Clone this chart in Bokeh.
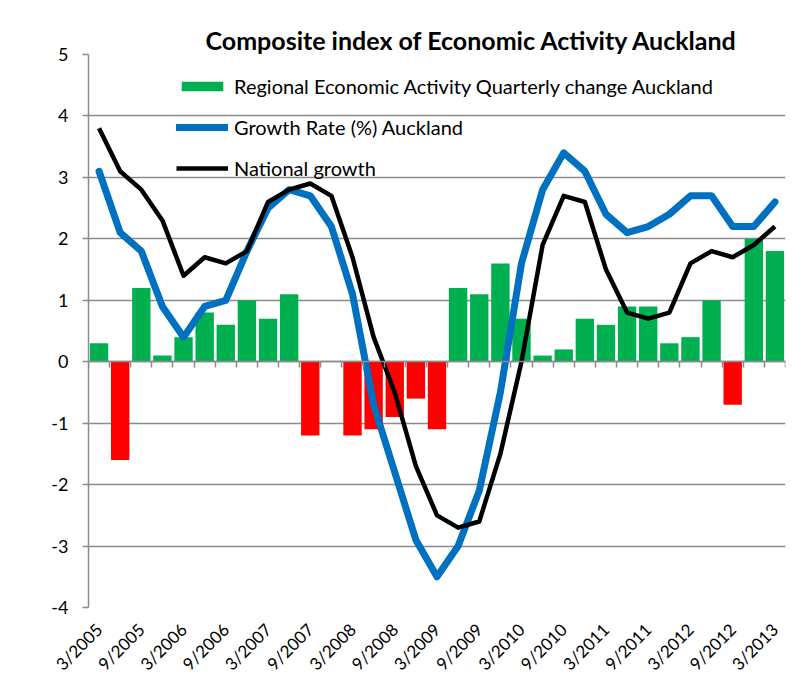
import math
from bokeh.plotting import figure
from bokeh.models import (Range1d, FixedTicker, LinearAxis, Legend, LegendItem,
                          Label, ColumnDataSource)
from bokeh.embed import file_html
from bokeh.resources import INLINE

# ---- data ----
quarters = [f"{m}/{y}" for y in range(2005, 2014) for m in (3, 6, 9, 12)][:33]
regional_change = [0.3, -1.6, 1.2, 0.1, 0.4, 0.8, 0.6, 1.0, 0.7, 1.1, -1.2, 0.0,
                   -1.2, -1.1, -0.9, -0.6, -1.1, 1.2, 1.1, 1.6, 0.7, 0.1, 0.2,
                   0.7, 0.6, 0.9, 0.9, 0.3, 0.4, 1.0, -0.7, 2.0, 1.8]
growth_auckland = [3.1, 2.1, 1.8, 0.9, 0.4, 0.9, 1.0, 1.8, 2.5, 2.8, 2.7, 2.2,
                   1.1, -0.7, -1.8, -2.9, -3.5, -3.0, -2.1, -0.5, 1.6, 2.8, 3.4,
                   3.1, 2.4, 2.1, 2.2, 2.4, 2.7, 2.7, 2.2, 2.2, 2.6]
national_growth = [3.8, 3.1, 2.8, 2.3, 1.4, 1.7, 1.6, 1.8, 2.6, 2.8, 2.9, 2.7,
                   1.7, 0.4, -0.5, -1.7, -2.5, -2.7, -2.6, -1.5, 0.0, 1.9, 2.7,
                   2.6, 1.5, 0.8, 0.7, 0.8, 1.6, 1.8, 1.7, 1.9, 2.2]
y_ticks = [-4, -3, -2, -1, 0, 1, 2, 3, 4, 5]

title_text = "Composite index of Economic Activity Auckland"
label_bars = "Regional Economic Activity Quarterly change Auckland"
label_blue = "Growth Rate (%) Auckland"
label_black = "National growth"

FONT = "Lato"
GREEN = "#00B050"
RED = "#FF0000"
BLUE = "#0070C0"
GRID = "#8C8C8C"

idx = list(range(len(quarters)))
colors = [GREEN if v >= 0 else RED for v in regional_change]
src = ColumnDataSource(dict(x=idx, bars=regional_change, color=colors,
                            blue=growth_auckland, black=national_growth))

p = figure(width=794, height=684, output_backend="svg", toolbar_location=None,
           x_range=Range1d(-0.5, len(quarters) - 0.5), y_range=Range1d(min(y_ticks), max(y_ticks)),
           min_border_left=88, min_border_right=9, min_border_top=54, min_border_bottom=77,
           title=title_text)
p.outline_line_color = None
p.background_fill_color = "white"
p.border_fill_color = "white"

p.title.text_font = FONT
p.title.text_font_size = "25px"
p.title.text_font_style = "bold"
p.title.text_color = "black"
p.title.align = "left"
p.title.offset = 117
p.title.standoff = 0

# grid
p.xgrid.visible = False
p.ygrid.ticker = FixedTicker(ticks=y_ticks)
p.ygrid.grid_line_color = GRID
p.ygrid.grid_line_width = 1.5

# y axis
p.yaxis.ticker = FixedTicker(ticks=y_ticks)
p.yaxis.major_label_overrides = {t: str(t) for t in y_ticks}
p.yaxis.axis_line_color = GRID
p.yaxis.axis_line_width = 1.5
p.yaxis.major_tick_line_color = GRID
p.yaxis.major_tick_line_width = 1.5
p.yaxis.major_tick_out = 6
p.yaxis.major_tick_in = 0
p.yaxis.minor_tick_line_color = None
p.yaxis.major_label_text_font = FONT
p.yaxis.major_label_text_font_size = "18px"
p.yaxis.major_label_text_color = "black"
p.yaxis.major_label_standoff = 14

# bottom axis with labels only
lab_ticks = idx[::2]
p.xaxis.ticker = FixedTicker(ticks=lab_ticks)
p.xaxis.major_label_overrides = {i: quarters[i] for i in lab_ticks}
p.xaxis.major_label_orientation = math.pi / 4
p.xaxis.axis_line_color = None
p.xaxis.major_tick_line_color = None
p.xaxis.minor_tick_line_color = None
p.xaxis.major_label_text_font = FONT
p.xaxis.major_label_text_font_size = "17px"
p.xaxis.major_label_text_color = "black"
p.xaxis.major_label_standoff = 13

# category axis crossing at zero
zero_axis = LinearAxis(fixed_location=0,
                       ticker=FixedTicker(ticks=[i - 0.5 for i in range(len(quarters) + 1)]))
zero_axis.axis_line_color = GRID
zero_axis.axis_line_width = 1.5
zero_axis.major_tick_line_color = GRID
zero_axis.major_tick_line_width = 1.5
zero_axis.major_tick_out = 6
zero_axis.major_tick_in = 0
zero_axis.minor_tick_line_color = None
zero_axis.major_label_text_color = None
zero_axis.major_label_text_font_size = "1px"
p.add_layout(zero_axis, "below")

bars = p.vbar(x="x", top="bars", bottom=0, width=0.87, source=src,
              fill_color="color", line_color=None)
blue = p.line("x", "blue", source=src, line_color=BLUE, line_width=7,
              line_join="round", line_cap="round")
black = p.line("x", "black", source=src, line_color="black", line_width=4.5,
               line_join="round")

legend = Legend(items=[LegendItem(label=label_bars, renderers=[bars]),
                       LegendItem(label=label_blue, renderers=[blue]),
                       LegendItem(label=label_black, renderers=[black])],
                location=(88, 427), padding=0, margin=0, spacing=17,
                glyph_width=52, glyph_height=12, label_height=20, label_standoff=6,
                background_fill_alpha=0, border_line_color=None,
                label_text_font=FONT, label_text_font_size="20px",
                label_text_color="black")
p.add_layout(legend)

pct = Label(x=p.x_range.start, y=0, x_offset=-66, text="%", text_font=FONT,
            text_font_size="21px", text_font_style="bold", text_baseline="middle",
            text_align="left", text_color="black")
p.add_layout(pct)

open("out.html", "w").write(file_html(p, INLINE))
